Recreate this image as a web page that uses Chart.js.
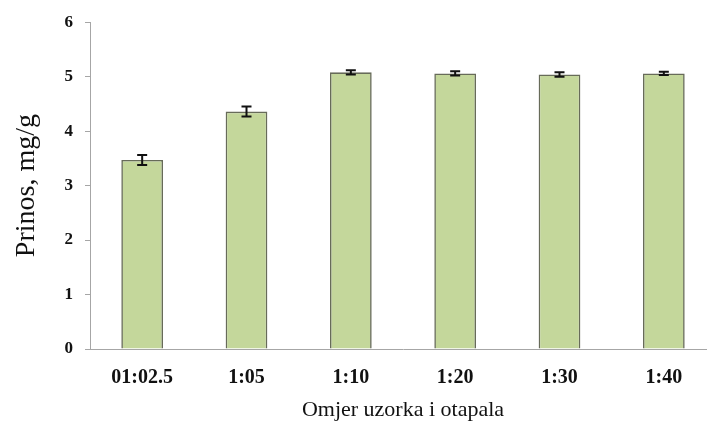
<!DOCTYPE html>
<html>
<head>
<meta charset="utf-8">
<script src="https://cdn.jsdelivr.net/npm/chart.js@4"></script>
<style>
  html, body { margin: 0; padding: 0; background: #fff; overflow: hidden; }
  #wrap { width: 716px; height: 430px; }
</style>
</head>
<body>
<div id="wrap"><canvas id="myChart" width="716" height="430"></canvas></div>
<script>
const labels = ["01:02.5", "1:05", "1:10", "1:20", "1:30", "1:40"];
const yields = [3.47, 4.36, 5.08, 5.06, 5.04, 5.06];
const errors = [0.09, 0.09, 0.04, 0.04, 0.04, 0.03];

// error bars drawn on top of the bars
const errorBars = {
  id: "errorBars",
  afterDatasetsDraw(chart) {
    const c = chart.ctx;
    const y = chart.scales.y;
    const meta = chart.getDatasetMeta(0);
    c.save();
    c.strokeStyle = "#111";
    c.lineWidth = 2;
    meta.data.forEach((bar, i) => {
      const top = y.getPixelForValue(yields[i] + errors[i]);
      const bot = y.getPixelForValue(yields[i] - errors[i]);
      c.beginPath();
      c.moveTo(bar.x, top);
      c.lineTo(bar.x, bot);
      c.moveTo(bar.x - 5, top);
      c.lineTo(bar.x + 5, top);
      c.moveTo(bar.x - 5, bot);
      c.lineTo(bar.x + 5, bot);
      c.stroke();
    });
    c.restore();
  },
};

const ctx = document.getElementById("myChart");

new Chart(ctx, {
  type: "bar",
  data: {
    labels: labels,
    datasets: [
      {
        data: yields,
        backgroundColor: "#c4d79b",
        borderColor: "#676b59",
        borderWidth: 1.6,
        barPercentage: 0.4,
        categoryPercentage: 1,
      },
    ],
  },
  options: {
    responsive: false,
    animation: false,
    layout: { padding: { top: 14, right: 0, left: 0, bottom: 0 } },
    plugins: {
      legend: { display: false },
      tooltip: { enabled: false },
    },
    scales: {
      x: {
        grid: { display: false },
        border: { display: true, color: "#a6a6a6", width: 1 },
        ticks: {
          color: "#111",
          padding: 9,
          font: { family: "Liberation Serif", size: 20, weight: "bold" },
        },
        title: {
          display: true,
          text: "Omjer uzorka i otapala",
          color: "#111",
          padding: { top: 0, bottom: 7 },
          font: { family: "Liberation Serif", size: 22 },
        },
        afterFit: (scale) => {
          scale.height = 81;
        },
      },
      y: {
        min: 0,
        max: 6,
        ticks: {
          stepSize: 1,
          color: "#111",
          padding: 12,
          font: { family: "Liberation Serif", size: 17, weight: "bold" },
        },
        grid: {
          drawOnChartArea: false,
          drawTicks: true,
          tickLength: 5,
          color: "#a6a6a6",
        },
        border: { display: true, color: "#a6a6a6", width: 1 },
        title: {
          display: true,
          text: "Prinos, mg/g",
          color: "#111",
          padding: { top: 10, bottom: 0 },
          font: { family: "Liberation Serif", size: 28 },
        },
        afterFit: (scale) => {
          scale.width = 90;
        },
      },
    },
  },
  plugins: [errorBars],
});
</script>
</body>
</html>
